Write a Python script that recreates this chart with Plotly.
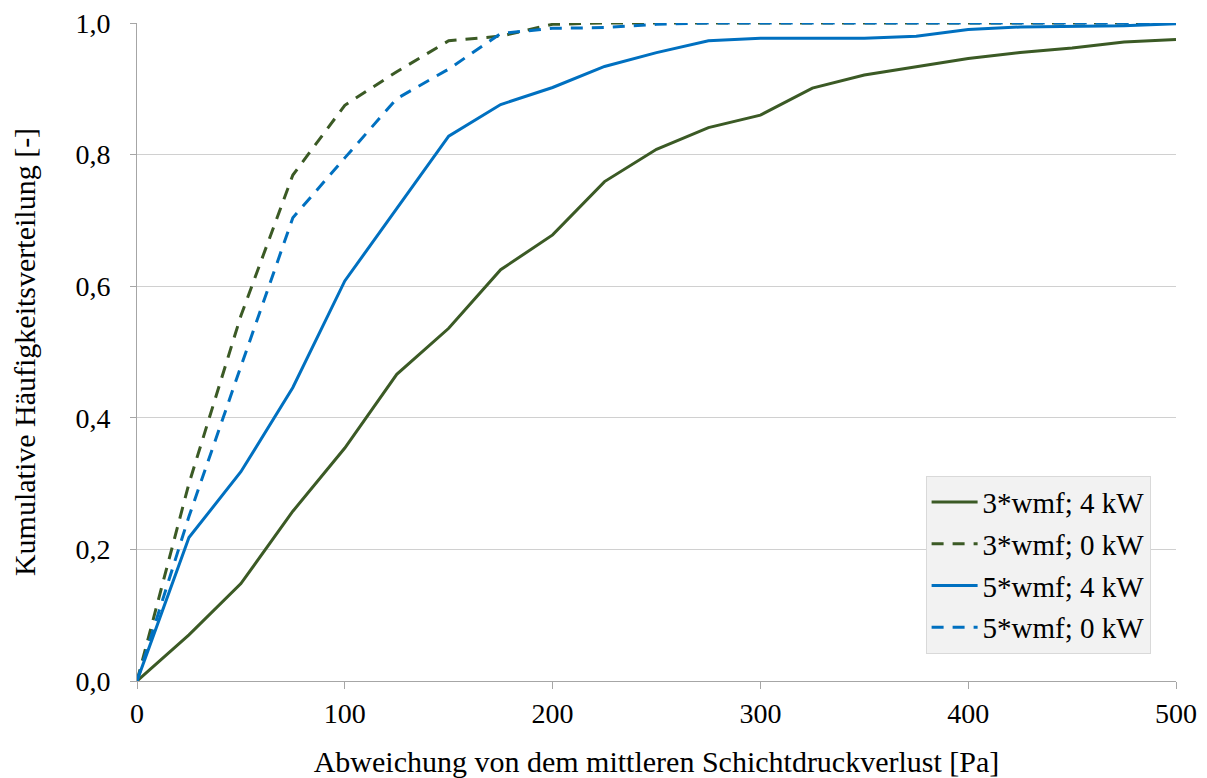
import plotly.graph_objects as go

x_vals = [0, 25, 50, 75, 100, 125, 150, 175, 200, 225, 250, 275, 300, 325, 350, 375, 400, 425, 450, 475, 500]

wmf3_4kw = [0.0, 0.070, 0.148, 0.258, 0.354, 0.466, 0.536, 0.625, 0.678, 0.759, 0.808, 0.841, 0.860, 0.901, 0.921, 0.934, 0.946, 0.955, 0.962, 0.971, 0.975]
wmf3_0kw = [0.0, 0.300, 0.555, 0.769, 0.875, 0.926, 0.973, 0.980, 0.998, 1.0, 1.0, 1.0, 1.0, 1.0, 1.0, 1.0, 1.0, 1.0, 1.0, 1.0, 1.0]
wmf5_4kw = [0.0, 0.218, 0.318, 0.446, 0.608, 0.718, 0.828, 0.876, 0.902, 0.934, 0.955, 0.973, 0.977, 0.977, 0.977, 0.980, 0.990, 0.994, 0.995, 0.996, 0.999]
wmf5_0kw = [0.0, 0.250, 0.478, 0.704, 0.795, 0.885, 0.930, 0.984, 0.992, 0.993, 0.998, 1.0, 1.0, 1.0, 1.0, 1.0, 1.0, 1.0, 1.0, 1.0, 1.0]

names = ["3*wmf; 4 kW", "3*wmf; 0 kW", "5*wmf; 4 kW", "5*wmf; 0 kW"]

GREEN = "#3B5A25"
BLUE = "#0070C0"
FONT = "Liberation Serif"

fig = go.Figure()
series = [
    (wmf3_4kw, names[0], GREEN, "solid"),
    (wmf3_0kw, names[1], GREEN, "12px,9px"),
    (wmf5_4kw, names[2], BLUE, "solid"),
    (wmf5_0kw, names[3], BLUE, "12px,9px"),
]
for i, (ys, nm, col, dash) in enumerate(series):
    fig.add_trace(go.Scatter(
        x=x_vals, y=ys, name=nm, mode="lines", legendgroup=f"g{i}",
        line=dict(color=col, width=3, dash=dash),
    ))

fig.update_layout(
    width=1207, height=778,
    margin=dict(l=137, r=31, t=23, b=97),
    paper_bgcolor="white", plot_bgcolor="white",
    font=dict(family=FONT, size=28, color="black"),
    separators=", ",
    showlegend=True,
    legend=dict(
        x=0.759, y=0.312, xanchor="left", yanchor="top",
        bgcolor="#F2F2F2", bordercolor="#D9D9D9", borderwidth=1,
        font=dict(family=FONT, size=29, color="black"),
        itemwidth=46, tracegroupgap=1,
    ),
)

fig.update_xaxes(
    range=[0, 500], tickvals=[0, 100, 200, 300, 400, 500],
    showgrid=False, zeroline=False, automargin=False,
    showline=True, linecolor="#A6A6A6", linewidth=1,
    ticks="outside", ticklen=7, tickcolor="#A6A6A6",
    tickfont=dict(family=FONT, size=28),
    title=dict(text="Abweichung von dem mittleren Schichtdruckverlust [Pa]",
               font=dict(family=FONT, size=30), standoff=28),
)
fig.update_yaxes(
    range=[0, 1.0], tickvals=[0, 0.2, 0.4, 0.6, 0.8, 1.0], tickformat=".1f",
    showgrid=True, gridcolor="#D0D0D0", gridwidth=1, zeroline=False, automargin=False,
    showline=True, linecolor="#A6A6A6", linewidth=1,
    ticks="outside", ticklen=6, tickcolor="#A6A6A6",
    tickfont=dict(family=FONT, size=28), ticklabelstandoff=14,
    title=dict(text="Kumulative Häufigkeitsverteilung [-]",
               font=dict(family=FONT, size=30), standoff=30),
)

fig.write_html("out.html")
